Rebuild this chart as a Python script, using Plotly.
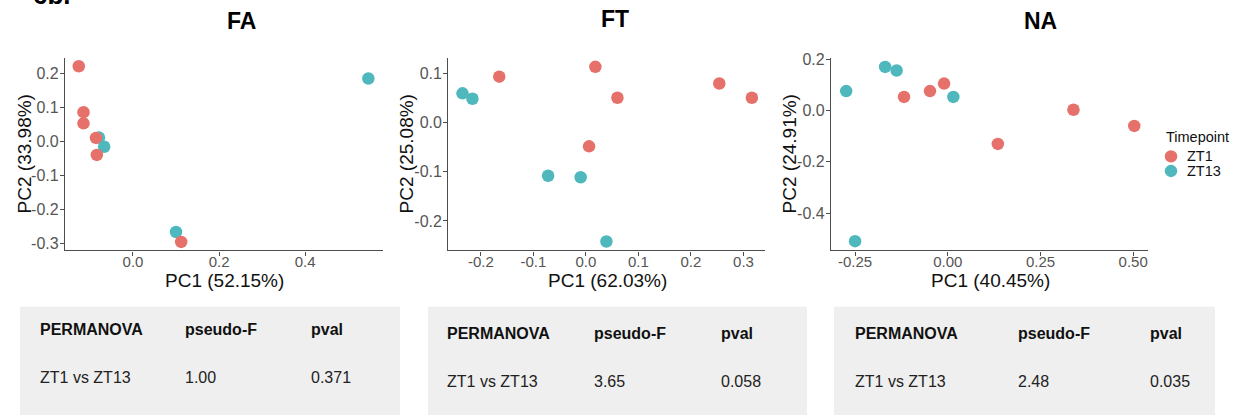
import plotly.graph_objects as go

# ---------------- data ----------------
panels = ["FA", "FT", "NA"]

FA_ZT1_x = [-0.126, -0.115, -0.115, -0.086, -0.084, 0.112]
FA_ZT1_y = [0.222, 0.087, 0.054, 0.011, -0.039, -0.295]
FA_ZT13_x = [-0.079, -0.067, 0.100, 0.547]
FA_ZT13_y = [0.012, -0.015, -0.266, 0.186]

FT_ZT1_x = [-0.165, 0.018, 0.060, 0.006, 0.254, 0.316]
FT_ZT1_y = [0.094, 0.114, 0.051, -0.048, 0.080, 0.051]
FT_ZT13_x = [-0.235, -0.216, -0.072, -0.010, 0.039]
FT_ZT13_y = [0.060, 0.049, -0.108, -0.111, -0.242]

NA_ZT1_x = [-0.118, -0.048, -0.010, 0.135, 0.339, 0.503]
NA_ZT1_y = [0.053, 0.076, 0.105, -0.130, 0.003, -0.060]
NA_ZT13_x = [-0.274, -0.169, -0.138, 0.015, -0.250]
NA_ZT13_y = [0.076, 0.170, 0.156, 0.053, -0.509]

x_titles = ["PC1 (52.15%)", "PC1 (62.03%)", "PC1 (40.45%)"]
y_titles = ["PC2 (33.98%)", "PC2 (25.08%)", "PC2 (24.91%)"]

FA_xticks = [0.0, 0.2, 0.4]
FA_xtext = ["0.0", "0.2", "0.4"]
FA_yticks = [-0.3, -0.2, -0.1, 0.0, 0.1, 0.2]
FA_ytext = ["-0.3", "-0.2", "-0.1", "0.0", "0.1", "0.2"]
FT_xticks = [-0.2, -0.1, 0.0, 0.1, 0.2, 0.3]
FT_xtext = ["-0.2", "-0.1", "0.0", "0.1", "0.2", "0.3"]
FT_yticks = [-0.2, -0.1, 0.0, 0.1]
FT_ytext = ["-0.2", "-0.1", "0.0", "0.1"]
NA_xticks = [-0.25, 0.0, 0.25, 0.50]
NA_xtext = ["-0.25", "0.00", "0.25", "0.50"]
NA_yticks = [-0.4, -0.2, 0.0, 0.2]
NA_ytext = ["-0.4", "-0.2", "0.0", "0.2"]

table_header = ["PERMANOVA", "pseudo-F", "pval"]
table_comparison = "ZT1 vs ZT13"
pseudo_F = ["1.00", "3.65", "2.48"]
pvals = ["0.371", "0.058", "0.035"]

legend_title = "Timepoint"
groups = ["ZT1", "ZT13"]

# ---------------- style ----------------
W, H = 1238, 419
FONT = "Liberation Sans, Arial, sans-serif"
COLORS = {"ZT1": "#E6716A", "ZT13": "#4FB8BD"}
AX_COLOR = "#4d4d4d"

def px_x(p):
    return p / W

def px_y(p):
    return 1 - p / H

x_domains = [(65, 383), (448.3, 765), (831, 1148)]
y_dom = [px_y(248.3), px_y(51.7)]
x_ranges = [[-0.158, 0.581], [-0.262, 0.341], [-0.315, 0.540]]
y_ranges = [[-0.320, 0.245], [-0.260, 0.131], [-0.545, 0.203]]
xticks = [(FA_xticks, FA_xtext), (FT_xticks, FT_xtext), (NA_xticks, NA_xtext)]
yticks = [(FA_yticks, FA_ytext), (FT_yticks, FT_ytext), (NA_yticks, NA_ytext)]
data = [
    {"ZT1": (FA_ZT1_x, FA_ZT1_y), "ZT13": (FA_ZT13_x, FA_ZT13_y)},
    {"ZT1": (FT_ZT1_x, FT_ZT1_y), "ZT13": (FT_ZT13_x, FT_ZT13_y)},
    {"ZT1": (NA_ZT1_x, NA_ZT1_y), "ZT13": (NA_ZT13_x, NA_ZT13_y)},
]

fig = go.Figure()
layout = {}
for i in range(3):
    sfx = "" if i == 0 else str(i + 1)
    for g in ["ZT13", "ZT1"]:
        xs, ys = data[i][g]
        fig.add_trace(go.Scatter(
            x=xs, y=ys, mode="markers", name=g,
            marker=dict(size=12.5, color=COLORS[g], line=dict(width=0)),
            xaxis="x" + sfx, yaxis="y" + sfx, showlegend=False,
        ))
    layout["xaxis" + sfx] = dict(
        domain=[px_x(x_domains[i][0]), px_x(x_domains[i][1])],
        range=x_ranges[i], anchor="y" + sfx,
        showgrid=False, zeroline=False, showline=True,
        linecolor=AX_COLOR, linewidth=1.3,
        ticks="outside", ticklen=4, tickcolor=AX_COLOR, tickwidth=1.2,
        tickvals=xticks[i][0], ticktext=xticks[i][1],
        tickfont=dict(family=FONT, size=15, color="#555555"),
        ticklabelstandoff=-7,
    )
    layout["yaxis" + sfx] = dict(
        domain=y_dom, range=y_ranges[i], anchor="x" + sfx,
        showgrid=False, zeroline=False, showline=True,
        linecolor=AX_COLOR, linewidth=1.3,
        ticks="outside", ticklen=4, tickcolor=AX_COLOR, tickwidth=1.2,
        tickvals=yticks[i][0], ticktext=yticks[i][1],
        tickfont=dict(family=FONT, size=16, color="#555555"),
        ticklabelstandoff=-2,
    )

annotations = []
title_pos = [(241, 13), (615, 11), (1040, 13)]
for i, t in enumerate(panels):
    annotations.append(dict(
        text="<b>%s</b>" % t, x=px_x(title_pos[i][0]), y=px_y(title_pos[i][1]),
        xref="paper", yref="paper", xanchor="center", yanchor="middle",
        showarrow=False, font=dict(family=FONT, size=23, color="#000000"),
    ))

# axis titles
xt_pos = [224, 607, 990]
yt_pos = [24, 406, 789]
for i in range(3):
    annotations.append(dict(
        text=x_titles[i], x=px_x(xt_pos[i]), y=px_y(279),
        xref="paper", yref="paper", xanchor="center", yanchor="middle",
        showarrow=False, font=dict(family=FONT, size=19, color="#111111"),
    ))
    annotations.append(dict(
        text=y_titles[i], x=px_x(yt_pos[i]), y=px_y(150),
        xref="paper", yref="paper", xanchor="center", yanchor="middle",
        textangle=-90,
        showarrow=False, font=dict(family=FONT, size=19, color="#111111"),
    ))

# cut-off panel label at the very top
annotations.append(dict(
    text="<b>6b.</b>", x=px_x(31), y=px_y(4), xref="paper", yref="paper",
    xanchor="left", yanchor="bottom", showarrow=False,
    font=dict(family=FONT, size=26, color="#000000"),
))

shapes = []
tables = [
    dict(x0=20, x1=400, cols=[38, 183, 309], r1=329, r2=379),
    dict(x0=428, x1=807, cols=[445, 592, 719], r1=333, r2=383),
    dict(x0=834, x1=1215, cols=[853, 1016, 1148], r1=333, r2=383),
]
for i, tb in enumerate(tables):
    shapes.append(dict(
        type="rect", xref="paper", yref="paper",
        x0=px_x(tb["x0"]), x1=px_x(tb["x1"]), y0=px_y(417), y1=px_y(306),
        fillcolor="#EFEFEF", line=dict(width=0), layer="below",
    ))
    row2 = [table_comparison, pseudo_F[i], pvals[i]]
    for j in range(3):
        annotations.append(dict(
            text="<b>%s</b>" % table_header[j], x=px_x(tb["cols"][j]), y=px_y(tb["r1"]),
            xref="paper", yref="paper", xanchor="left", yanchor="middle",
            showarrow=False, font=dict(family=FONT, size=16, color="#111111"),
        ))
        annotations.append(dict(
            text=row2[j], x=px_x(tb["cols"][j]), y=px_y(tb["r2"]),
            xref="paper", yref="paper", xanchor="left", yanchor="middle",
            showarrow=False, font=dict(family=FONT, size=16, color="#222222"),
        ))

# legend (drawn manually to match the compact ggplot spacing)
annotations.append(dict(
    text=legend_title, x=px_x(1164), y=px_y(132), xref="paper", yref="paper",
    xanchor="left", yanchor="middle", showarrow=False,
    font=dict(family=FONT, size=14.5, color="#111111"),
))
leg_y = [152, 167]
for k, g in enumerate(groups):
    r = 6.3
    shapes.append(dict(
        type="circle", xref="paper", yref="paper",
        x0=px_x(1171 - r), x1=px_x(1171 + r),
        y0=px_y(leg_y[k] + r), y1=px_y(leg_y[k] - r),
        fillcolor=COLORS[g], line=dict(width=0),
    ))
    annotations.append(dict(
        text=g, x=px_x(1185), y=px_y(leg_y[k]), xref="paper", yref="paper",
        xanchor="left", yanchor="middle", showarrow=False,
        font=dict(family=FONT, size=14.5, color="#111111"),
    ))

fig.update_layout(
    width=W, height=H,
    margin=dict(l=0, r=0, t=0, b=0),
    paper_bgcolor="white", plot_bgcolor="white",
    font=dict(family=FONT),
    showlegend=False,
    annotations=annotations,
    shapes=shapes,
    **layout,
)

fig.write_html("out.html")
